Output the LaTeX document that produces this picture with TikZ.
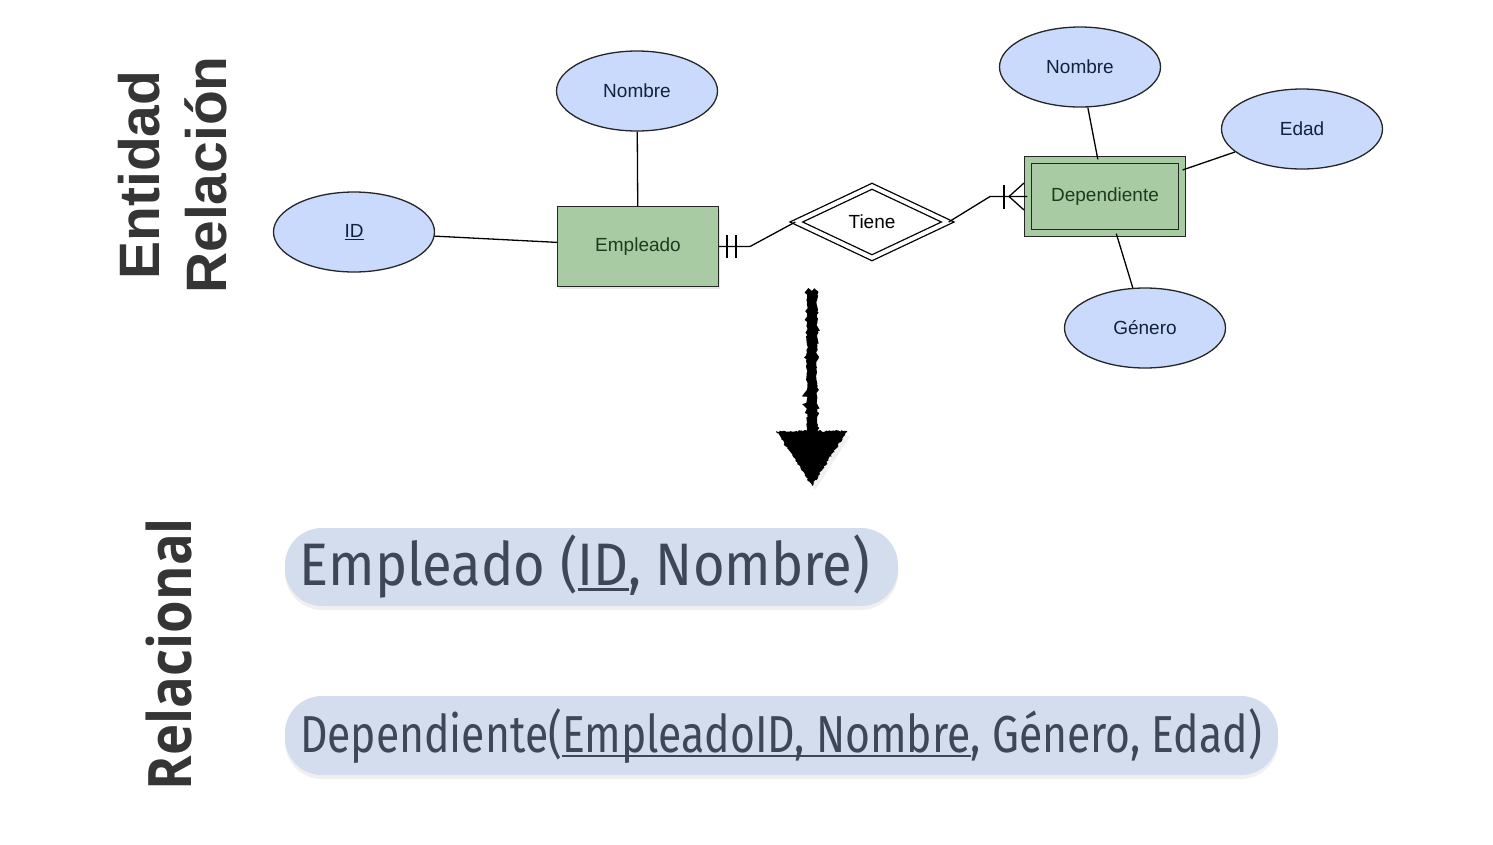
\documentclass[tikz,border=0pt]{standalone}
\usepackage{fontspec}
\setmainfont{Liberation Sans}
\newfontfamily\relfont{Fira Sans}
\newfontfamily\rtitlefont{Open Sans}
\usetikzlibrary{shapes.geometric,shadows,decorations.pathmorphing}
\definecolor{attrfill}{HTML}{C9DAFC}
\definecolor{attrtext}{HTML}{14213D}
\definecolor{entfill}{HTML}{A8CBA3}
\definecolor{enttext}{HTML}{1E3B1E}
\definecolor{boxfill}{HTML}{D3DDEE}
\definecolor{boxtext}{HTML}{3E4757}
\definecolor{titlegray}{HTML}{353535}
\newcommand\myul[1]{\setbox0\hbox{#1}\rlap{\rule[-0.1em]{\wd0}{0.045em}}\box0}
\begin{document}
\begin{tikzpicture}[x=1pt,y=-1pt,
  every path/.style={line width=1.3pt},
  attr/.style={ellipse,draw=black!85,fill=attrfill,text=attrtext,minimum width=161pt,minimum height=80pt,inner sep=0pt,font=\fontsize{19}{19}\selectfont},
  ent/.style={rectangle,draw=black!85,fill=entfill,text=enttext,minimum width=161pt,minimum height=80pt,inner sep=0pt,font=\fontsize{19}{19}\selectfont,drop shadow={opacity=0.18,shadow xshift=1.5pt,shadow yshift=-2pt}},
  weakent/.style={rectangle,draw=black!85,double=entfill,double distance=6pt,fill=entfill,text=enttext,minimum width=154pt,minimum height=73pt,inner sep=0pt,font=\fontsize{19}{19}\selectfont,drop shadow={opacity=0.18,shadow xshift=1.5pt,shadow yshift=-2pt}},
  rel/.style={diamond,draw=black,double=white,double distance=4pt,fill=white,minimum width=152pt,minimum height=72pt,inner sep=0pt,font=\fontsize{19}{19}\selectfont},
  relbox/.style={rectangle,rounded corners=37pt,fill=boxfill,drop shadow={opacity=0.12,shadow xshift=0pt,shadow yshift=-4pt}},
  reltext/.style={anchor=base,text=boxtext,inner sep=0pt},
  title/.style={anchor=base,rotate=90,text=titlegray,inner sep=0pt},
  rough/.style={decorate,decoration={random steps,segment length=1.5pt,amplitude=1pt}}
]
\useasboundingbox (0,0) rectangle (1493,844);

% Titles
\node[title,font=\fontsize{57}{57}\selectfont\bfseries] (t1) at (159,175) {Entidad};
\node[title,font=\fontsize{57}{57}\selectfont\bfseries] (t2) at (226,175) {Relación};
\node[title] (t3) at (191,654) {\resizebox{272pt}{\height}{\rtitlefont\fontsize{60}{60}\selectfont\bfseries Relacional}};

% ER diagram
\node[attr] (nom1) at (637,91) {Nombre};
\node[attr] (id) at (354,232) {\underline{ID}};
\node[ent] (emp) at (638,246.5) {Empleado};
\node[rel] (tiene) at (872,222) {Tiene};
\node[weakent] (dep) at (1105,196.5) {Dependiente};
\node[attr] (nom2) at (1080,67) {Nombre};
\node[attr] (edad) at (1302,129) {Edad};
\node[attr] (gen) at (1145,328) {Género};

\draw (nom1) -- (emp);
\draw (id) -- (emp);
\draw (nom2) -- (dep);
\draw (edad) -- (dep);
\draw (gen) -- (dep);

\coordinate (c1) at (750,246.5);
\coordinate (c2) at (990,196.5);
\draw (emp.east) -- (c1) -- (tiene.west);
\draw (tiene.east) -- (c2) -- (dep.west);
% one-and-only-one
\draw (727,235) -- (727,258);
\draw (736,235) -- (736,258);
% one-or-many
\draw (1004,185) -- (1004,209);
\coordinate (cf) at (1009,196.5);
\draw (cf) -- (1024,183);
\draw (cf) -- (1024,210);

% Rough arrow
\coordinate (aS) at (812,291);
\coordinate (aE) at (812,440);
\fill[black!6] (780,436) -- (850,436) -- (815,490) -- cycle;
\draw[rough,line width=9.5pt] (aS) -- (aE);
\fill[rough] (776,431) -- (847,431) -- (812,486) -- cycle;

% Relational boxes
\node[relbox,minimum width=613pt,minimum height=78pt] (b1) at (591.5,567) {};
\node[relbox,minimum width=993pt,minimum height=79pt] (b2) at (781.5,735.5) {};
\node[reltext] (r1) at (585,585) {\resizebox{570pt}{\height}{\relfont\fontsize{60}{60}\selectfont Empleado (\myul{ID}, Nombre)}};
\node[reltext] (r2) at (781,752) {\resizebox{962pt}{\height}{\relfont\fontsize{52}{52}\selectfont Dependiente(\myul{EmpleadoID, Nombre}, Género, Edad)}};
\end{tikzpicture}
\end{document}
